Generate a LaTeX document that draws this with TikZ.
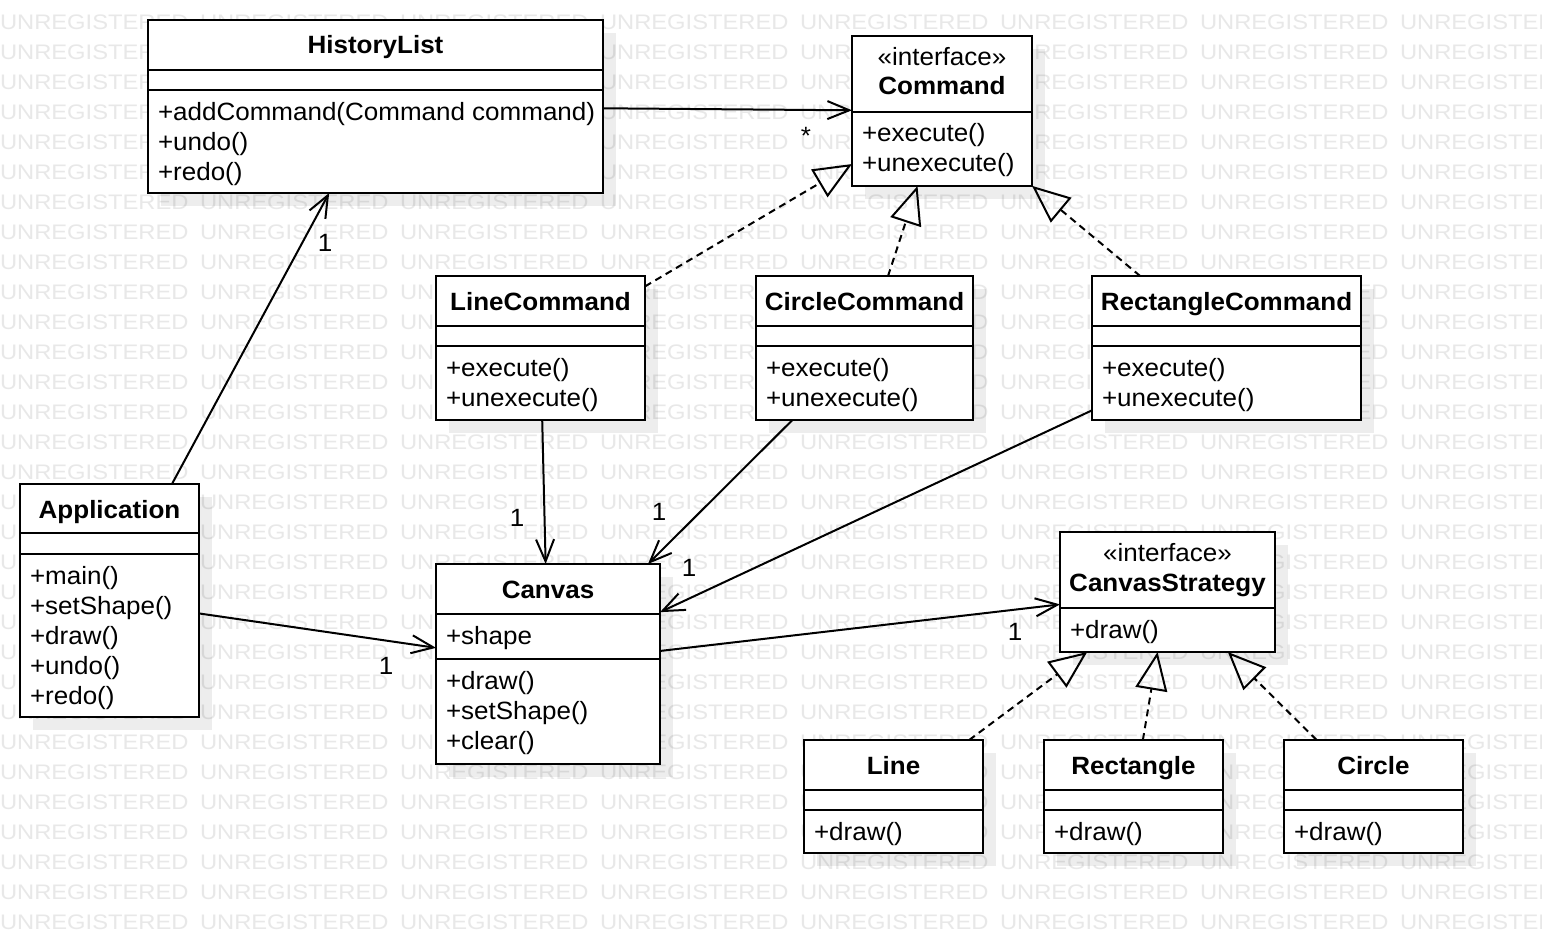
\documentclass[tikz,border=0pt]{standalone}
\usepackage{fontspec}
\setmainfont{Liberation Sans}[FakeStretch=1.04]
\newfontfamily\wmfont{Liberation Sans}[FakeStretch=1.13]
\usetikzlibrary{arrows.meta,shadows}
\definecolor{wmgray}{HTML}{E8E8E8}
\newcommand\umlbox[5]{%
  \node[classbox, minimum width={(#4-#2)*1pt}, minimum height={(#5-#3)*1pt}] (#1) at ({(#2+#4)/2},{(#3+#5)/2}) {};}
\newcommand\compline[3]{\draw[boxline] (#1,#3) -- (#2,#3);}
\begin{document}
\begin{tikzpicture}[x=1pt,y=-1pt,
  classbox/.style={rectangle, draw=black, fill=white, line width=2.4pt, inner sep=0pt, outer sep=0pt,
    drop shadow={shadow xshift=13pt, shadow yshift=-13pt, fill=black, opacity=0.07}},
  boxline/.style={line width=2.4pt},
  txt/.style={font=\fontsize{25}{30}\selectfont, inner sep=0pt, outer sep=0pt, text=black},
  bold/.style={txt, font=\fontsize{25}{30}\selectfont\bfseries},
  wmtext/.style={font=\wmfont\fontsize{21}{30}\selectfont, text=wmgray, inner sep=0pt, outer sep=0pt},
  assoc/.style={line width=2pt, -{Straight Barb[length=22pt, width=18pt]}},
  realize/.style={line width=2pt, dash pattern=on 7pt off 5pt, -{Triangle[open, length=38pt, width=32pt]}},
]
\useasboundingbox (0,0) rectangle (1542,934);
\fill[white] (0,0) rectangle (1542,934);
% watermark
\begin{scope}
\clip (0,0) rectangle (1542,934);
\foreach \r in {0,...,30}{
  \foreach \c in {0,...,7}{
    \node[wmtext, anchor=base west] (wm-\r-\c) at (\c*200, 29.5+\r*30) {UNREGISTERED};
  }
}
\end{scope}

% ---------- boxes ----------
\umlbox{hist}{148}{20}{603}{193}
\compline{148}{603}{70}\compline{148}{603}{90}
\node[bold, anchor=base] (hist-n) at (375.5,54) {HistoryList};
\node[txt, anchor=base west] (hist-o1) at (158,120) {+addCommand(Command command)};
\node[txt, anchor=base west] (hist-o2) at (158,150) {+undo()};
\node[txt, anchor=base west] (hist-o3) at (158,180) {+redo()};

\umlbox{cmd}{852}{36}{1032}{186}
\compline{852}{1032}{112}
\node[txt, anchor=base] (cmd-s) at (942,66) {«interface»};
\node[bold, anchor=base] (cmd-n) at (942,95) {Command};
\node[txt, anchor=base west] (cmd-o1) at (862,141) {+execute()};
\node[txt, anchor=base west] (cmd-o2) at (862,171) {+unexecute()};

\umlbox{linecmd}{436}{276}{645}{420}
\compline{436}{645}{326}\compline{436}{645}{346}
\node[bold, anchor=base] (linecmd-n) at (540.5,310) {LineCommand};
\node[txt, anchor=base west] (linecmd-o1) at (446,376) {+execute()};
\node[txt, anchor=base west] (linecmd-o2) at (446,406) {+unexecute()};

\umlbox{circmd}{756}{276}{973}{420}
\compline{756}{973}{326}\compline{756}{973}{346}
\node[bold, anchor=base] (circmd-n) at (864.5,310) {CircleCommand};
\node[txt, anchor=base west] (circmd-o1) at (766,376) {+execute()};
\node[txt, anchor=base west] (circmd-o2) at (766,406) {+unexecute()};

\umlbox{rectcmd}{1092}{276}{1361}{420}
\compline{1092}{1361}{326}\compline{1092}{1361}{346}
\node[bold, anchor=base] (rectcmd-n) at (1226.5,310) {RectangleCommand};
\node[txt, anchor=base west] (rectcmd-o1) at (1102,376) {+execute()};
\node[txt, anchor=base west] (rectcmd-o2) at (1102,406) {+unexecute()};

\umlbox{app}{20}{484}{199}{717}
\compline{20}{199}{533}\compline{20}{199}{554}
\node[bold, anchor=base] (app-n) at (109.5,518) {Application};
\node[txt, anchor=base west] (app-o1) at (30,584) {+main()};
\node[txt, anchor=base west] (app-o2) at (30,614) {+setShape()};
\node[txt, anchor=base west] (app-o3) at (30,644) {+draw()};
\node[txt, anchor=base west] (app-o4) at (30,674) {+undo()};
\node[txt, anchor=base west] (app-o5) at (30,704) {+redo()};

\umlbox{canvas}{436}{564}{660}{764}
\compline{436}{660}{614}\compline{436}{660}{659}
\node[bold, anchor=base] (canvas-n) at (548,598) {Canvas};
\node[txt, anchor=base west] (canvas-a1) at (446,644) {+shape};
\node[txt, anchor=base west] (canvas-o1) at (446,689) {+draw()};
\node[txt, anchor=base west] (canvas-o2) at (446,719) {+setShape()};
\node[txt, anchor=base west] (canvas-o3) at (446,749) {+clear()};

\umlbox{strat}{1060}{532}{1275}{652}
\compline{1060}{1275}{608}
\node[txt, anchor=base] (strat-s) at (1167.5,561) {«interface»};
\node[bold, anchor=base] (strat-n) at (1167.5,591) {CanvasStrategy};
\node[txt, anchor=base west] (strat-o1) at (1070,638) {+draw()};

\umlbox{line}{804}{740}{983}{853}
\compline{804}{983}{790}\compline{804}{983}{810}
\node[bold, anchor=base] (line-n) at (893.5,774) {Line};
\node[txt, anchor=base west] (line-o1) at (814,840) {+draw()};

\umlbox{rect}{1044}{740}{1223}{853}
\compline{1044}{1223}{790}\compline{1044}{1223}{810}
\node[bold, anchor=base] (rect-n) at (1133.5,774) {Rectangle};
\node[txt, anchor=base west] (rect-o1) at (1054,840) {+draw()};

\umlbox{circle}{1284}{740}{1463}{853}
\compline{1284}{1463}{790}\compline{1284}{1463}{810}
\node[bold, anchor=base] (circle-n) at (1373.5,774) {Circle};
\node[txt, anchor=base west] (circle-o1) at (1294,840) {+draw()};

% ---------- connectors ----------
\draw[assoc] (hist) -- (cmd);
\draw[assoc] (app) -- (hist);
\draw[assoc] (app) -- (canvas);
\draw[assoc] (linecmd) -- (canvas);
\draw[assoc] (circmd) -- (canvas);
\draw[assoc] (rectcmd) -- (canvas);
\draw[assoc] (canvas) -- (strat);
\draw[realize] (linecmd) -- (cmd);
\draw[realize] (circmd) -- (cmd);
\draw[realize] (rectcmd) -- (cmd);
\draw[realize] (line) -- (strat);
\draw[realize] (rect) -- (strat);
\draw[realize] (circle) -- (strat);

% ---------- multiplicities ----------
\node[txt, anchor=base] (m-star) at (806,144) {*};
\node[txt, anchor=base] (m-1a) at (325,251) {1};
\node[txt, anchor=base] (m-1b) at (386,674) {1};
\node[txt, anchor=base] (m-1c) at (517,526) {1};
\node[txt, anchor=base] (m-1d) at (659,520) {1};
\node[txt, anchor=base] (m-1e) at (689,576) {1};
\node[txt, anchor=base] (m-1f) at (1015,640) {1};
\end{tikzpicture}
\end{document}
